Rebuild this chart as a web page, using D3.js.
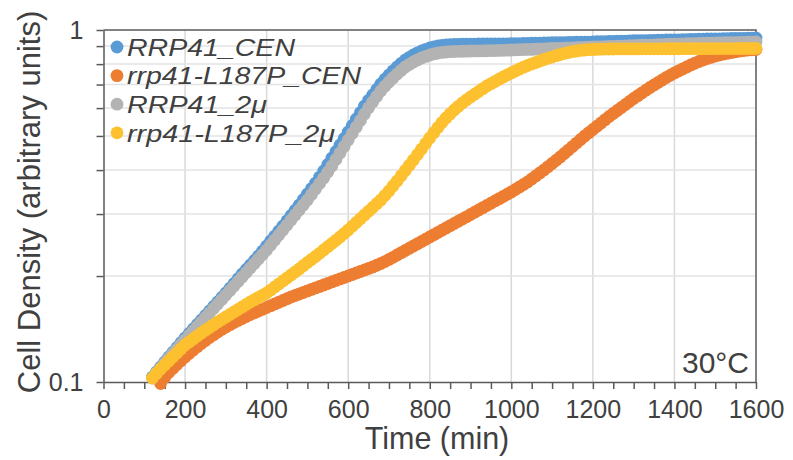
<!DOCTYPE html>
<html>
<head>
<meta charset="utf-8">
<script src="https://cdn.jsdelivr.net/npm/d3@7"></script>
<style>
  body { margin: 0; background: #fff; }
  text { font-family: "Liberation Sans", Arial, sans-serif; fill: #404040; }
</style>
</head>
<body>
<script>
// sampling times (min): one reading every 10 min, 120 .. 1600
const times = d3.range(120, 1601, 10);

const rrp41Cen = [
  .1033, .1068, .1103, .1140, .1178, .1215, .1253, .1293, .1334, .1374,
  .1415, .1457, .1500, .1545, .1591, .1639, .1688, .1738, .1790, .1847,
  .1905, .1965, .2027, .2088, .2150, .2214, .2280, .2355, .2434, .2515,
  .2598, .2685, .2775, .2872, .2972, .3076, .3183, .3300, .3421, .3545,
  .3675, .3821, .3976, .4148, .4330, .4519, .4714, .4919, .5131, .5356,
  .5588, .5832, .6083, .6310, .6537, .6780, .7024, .7245, .7450, .7655,
  .7851, .8040, .8219, .8365, .8492, .8610, .8717, .8810, .8890, .8955,
  .9006, .9040, .9066, .9085, .9100, .9107, .9112, .9116, .9120, .9122,
  .9124, .9126, .9128, .9130, .9132, .9134, .9136, .9138, .914,
  .915, .915, .916, .916, .917, .918, .918, .919, .919, .920,
  .920, .921, .921, .922, .922, .923, .923, .924, .924, .925,
  .926, .927, .927, .928, .928, .929, .929, .930, .931, .932,
  .932, .933, .933, .934, .934, .935, .936, .937, .937, .938,
  .938, .939, .939, .940, .941, .942, .942, .943, .943, .944,
  .944, .945, .945, .946, .946, .947, .947, .948, .948, .949];

const l187pCen = [
  null, null, .0990, .1030, .1064, .1093, .1121, .1150, .1178, .1206,
  .1233, .1260, .1286, .1312, .1338, .1363, .1387, .1410, .1433, .1455,
  .1476, .1495, .1515, .1535, .1555, .1573, .1591, .1609, .1628, .1647,
  .1666, .1685, .1704, .1724, .1744, .1761, .1778, .1796, .1814, .1832,
  .1850, .1868, .1886, .1905, .1924, .1943, .1962, .1981, .2001, .2020,
  .2040, .2060, .2081, .2101, .2122, .2146, .2171, .2199, .2229, .2261,
  .2295, .2329, .2364, .2399, .2434, .2470, .2507, .2544, .2582, .2620,
  .2659, .2698, .2738, .2779, .2820, .2862, .2904, .2947, .2991, .3036,
  .3081, .3127, .3173, .3220, .3268, .3316, .3365, .3415, .3466,
  .3523, .3581, .3640, .3701, .3774, .3849, .3925, .4002, .4088, .4176,
  .4266, .4358, .4458, .4560, .4666, .4774, .4885, .4998, .5106, .5216,
  .5329, .5443, .5560, .5679, .5792, .5906, .6024, .6143, .6265, .6388,
  .6505, .6622, .6743, .6865, .6979, .7094, .7211, .7329, .7439, .7548,
  .7648, .7748, .7851, .7954, .8046, .8138, .8219, .8299, .8368, .8436,
  .8492, .8548, .8590, .8632, .8675, .8717, .8746, .8774, .8789, .8803];

const rrp41_2mu = [
  .1026, .1061, .1096, .1133, .1170, .1205, .1241, .1278, .1316, .1356,
  .1396, .1438, .1481, .1525, .1570, .1617, .1665, .1715, .1767, .1820,
  .1874, .1930, .1987, .2047, .2108, .2171, .2236, .2302, .2371, .2450,
  .2531, .2615, .2702, .2792, .2886, .2982, .3081, .3183, .3289, .3409,
  .3534, .3664, .3798, .3950, .4108, .4287, .4473, .4668, .4870, .5083,
  .5302, .5535, .5774, .6010, .6245, .6478, .6708, .6917, .7117, .7312,
  .7499, .7680, .7851, .7987, .8112, .8224, .8327, .8415, .8492, .8553,
  .8604, .8637, .8660, .8676, .8689, .8697, .8703, .8710, .8717, .8720,
  .8722, .8726, .8730, .8735, .8740, .8747, .8755, .8764, .8774,
  .878, .879, .880, .881, .881, .882, .883, .884, .885, .886,
  .886, .887, .888, .889, .890, .891, .892, .893, .894, .895,
  .895, .896, .897, .898, .899, .900, .900, .901, .902, .903,
  .904, .905, .905, .906, .907, .908, .909, .910, .911, .912,
  .912, .913, .914, .915, .915, .916, .917, .918, .918, .919,
  .919, .920, .920, .921, .921, .922, .922, .923, .924, .925];

const l187p_2mu = [
  .1026, .1058, .1089, .1118, .1147, .1178, .1209, .1241, .1274, .1299,
  .1325, .1351, .1378, .1403, .1428, .1454, .1481, .1505, .1530, .1555,
  .1581, .1607, .1634, .1661, .1688, .1713, .1738, .1764, .1790, .1825,
  .1862, .1899, .1936, .1975, .2014, .2054, .2094, .2139, .2185, .2229,
  .2273, .2321, .2371, .2422, .2474, .2527, .2582, .2641, .2703, .2770,
  .2839, .2909, .2982, .3056, .3132, .3209, .3289, .3386, .3489, .3604,
  .3725, .3855, .3989, .4129, .4273, .4429, .4590, .4760, .4933, .5110,
  .5285, .5457, .5623, .5778, .5926, .6068, .6203, .6330, .6451, .6570,
  .6688, .6812, .6933, .7038, .7140, .7248, .7353, .7452, .7548,
  .7648, .7748, .7840, .7928, .8008, .8085, .8165, .8245, .8315, .8381,
  .8452, .8520, .8578, .8632, .8678, .8717, .8748, .8774, .8790, .8803,
  .8815, .8825, .8828, .8830, .8832, .8834, .8835, .8836, .8837, .8838,
  .8839, .8840, .8840, .8841, .8842, .8843, .8844, .8845, .8846, .8847,
  .8847, .8848, .8849, .8850, .8851, .8852, .8852, .8853, .8854, .8855,
  .8855, .8856, .8857, .8858, .8858, .8859, .8859, .8860, .8861, .8862];

const seriesNames = ["RRP41_CEN", "rrp41-L187P_CEN", "RRP41_2\u03bc", "rrp41-L187P_2\u03bc"];
const seriesColors = ["#5b9bd5", "#ed7d31", "#b3b3b3", "#fdc130"];
const seriesValues = [rrp41Cen, l187pCen, rrp41_2mu, l187p_2mu];
// legend labels are set wide in the original, so stretch them to these widths
const legendWidths = [168, 234, 140, 208];

const xTicks = [0, 200, 400, 600, 800, 1000, 1200, 1400, 1600];
const xMinorTicks = d3.range(0, 1601, 50);
const yTicks = [0.1, 0.2, 0.3, 0.4, 0.5, 0.6, 0.7, 0.8, 0.9, 1];
const yLabels = [0.1, 1];

const width = 793, height = 460;
const margin = { top: 30, right: 37, bottom: 78, left: 103.5 };

const svg = d3.select("body").append("svg")
  .attr("width", width)
  .attr("height", height);

svg.append("rect").attr("width", width).attr("height", height).attr("fill", "#fff");

const x = d3.scaleLinear().domain([0, 1600]).range([margin.left, width - margin.right]);
const y = d3.scaleLog().domain([0.1, 1]).range([height - margin.bottom, margin.top]);

// grid lines
svg.append("g")
  .selectAll("line")
  .data(xTicks.slice(1, -1))
  .enter()
  .append("line")
  .attr("x1", d => x(d)).attr("x2", d => x(d))
  .attr("y1", y(0.1)).attr("y2", y(1))
  .attr("stroke", "#d9d9d9")
  .attr("stroke-width", 1.5);

svg.append("g")
  .selectAll("line")
  .data(yTicks.slice(1, -1))
  .enter()
  .append("line")
  .attr("x1", x(0)).attr("x2", x(1600))
  .attr("y1", d => y(d)).attr("y2", d => y(d))
  .attr("stroke", "#e3e3e3")
  .attr("stroke-width", 1.5);

// border on top / right
svg.append("path")
  .attr("d", `M${x(0)},${y(1)}H${x(1600)}V${y(0.1)}`)
  .attr("fill", "none")
  .attr("stroke", "#595959")
  .attr("stroke-width", 1.5);

// axes
const xAxis = svg.append("g")
  .attr("transform", `translate(0,${y(0.1)})`)
  .call(d3.axisBottom(x)
    .tickValues(xMinorTicks)
    .tickSize(7)
    .tickSizeOuter(0)
    .tickPadding(11)
    .tickFormat(d => xTicks.includes(d) ? d : ""));

const yAxis = svg.append("g")
  .attr("transform", `translate(${x(0)},0)`)
  .call(d3.axisLeft(y)
    .tickValues(yTicks)
    .tickSize(7)
    .tickSizeOuter(0)
    .tickPadding(13)
    .tickFormat(d => yLabels.includes(d) ? d : ""));

[xAxis, yAxis].forEach(g => {
  g.select(".domain").attr("stroke", "#595959").attr("stroke-width", 1.5);
  g.selectAll(".tick line").attr("stroke", "#595959").attr("stroke-width", 1.5);
  g.selectAll(".tick text")
    .attr("fill", "#404040")
    .style("font-family", '"Liberation Sans", Arial, sans-serif')
    .style("font-size", "25px");
});

// the points, drawn in series order so later ones sit on top
seriesValues.forEach((vals, i) => {
  const pts = times.map((t, j) => ({ t: t, v: vals[j] })).filter(d => d.v != null);
  svg.append("g")
    .selectAll("circle")
    .data(pts)
    .enter()
    .append("circle")
    .attr("cx", d => x(d.t))
    .attr("cy", d => y(d.v))
    .attr("r", 6.4)
    .attr("fill", seriesColors[i]);
});

// legend
const legend = svg.append("g");
seriesNames.forEach((name, i) => {
  const ly = 47 + i * 28.6;
  legend.append("circle")
    .attr("cx", 117).attr("cy", ly).attr("r", 6.4)
    .attr("fill", seriesColors[i]);
  legend.append("text")
    .attr("x", 127).attr("y", ly)
    .attr("dy", "0.36em")
    .attr("textLength", legendWidths[i])
    .attr("lengthAdjust", "spacingAndGlyphs")
    .style("font-size", "24.5px")
    .style("font-style", "italic")
    .text(name);
});

// labels
svg.append("text")
  .attr("x", x(1600) - 7).attr("y", 373)
  .attr("text-anchor", "end")
  .style("font-size", "30px")
  .text("30\u00b0C");

svg.append("text")
  .attr("x", 437).attr("y", 449)
  .attr("text-anchor", "middle")
  .style("font-size", "30.5px")
  .text("Time (min)");

svg.append("text")
  .attr("transform", "translate(29,202) rotate(-90)")
  .attr("text-anchor", "middle")
  .attr("dy", "0.35em")
  .style("font-size", "31px")
  .text("Cell Density (arbitrary units)");
</script>
</body>
</html>
